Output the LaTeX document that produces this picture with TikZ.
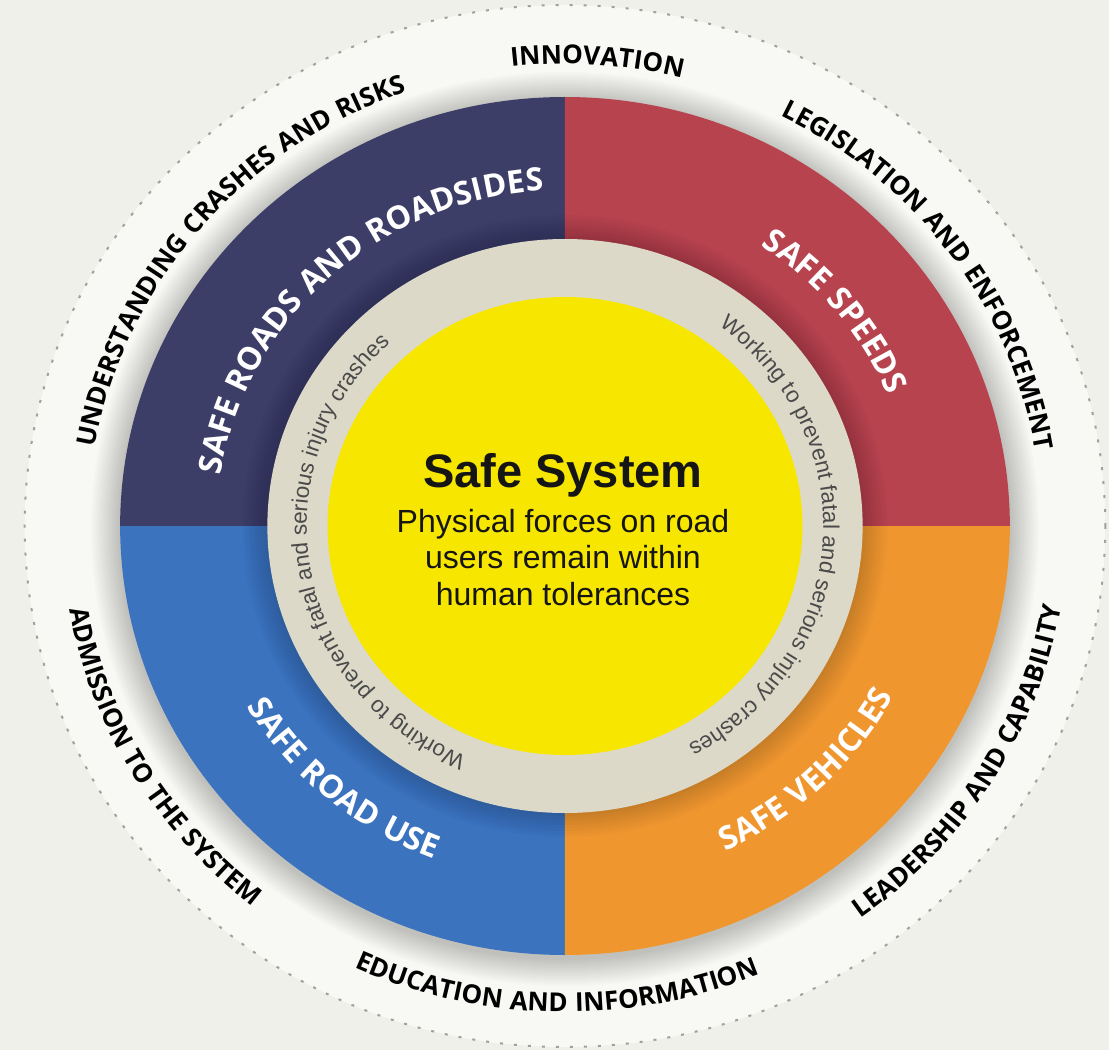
\documentclass[tikz,border=0pt]{standalone}
\usepackage{fontspec}
\setmainfont{Liberation Sans}
\newfontfamily\lblfont[LetterSpace=4]{Open Sans}
\usetikzlibrary{decorations.text}
\definecolor{bgout}{HTML}{F0F0EA}
\definecolor{bgin}{HTML}{F8F8F4}
\definecolor{dotc}{HTML}{A0A0A0}
\definecolor{navyq}{HTML}{3C3E68}
\definecolor{redq}{HTML}{B7434F}
\definecolor{blueq}{HTML}{3B73BF}
\definecolor{orangeq}{HTML}{F0962F}
\definecolor{beigering}{HTML}{DCD9C9}
\definecolor{yellowc}{HTML}{F7E600}
\definecolor{ringtxt}{HTML}{4A4A4A}
\definecolor{maintxt}{HTML}{151515}
\newcommand{\xsc}{1.037}
\newcommand{\outf}{\lblfont\bfseries\fontsize{26}{30}\selectfont}
\newcommand{\quadf}{\lblfont\bfseries\fontsize{32}{36}\selectfont}
\newcommand{\ringf}{\fontsize{22.5}{26}\selectfont}
% text reading clockwise (letters outward)
\newcommand{\toparc}[5]{\path[decorate,decoration={text along path,text align=center,text color=#5,text={|#3|#4}}]
  ({\xsc*(#2)*cos((#1)+80)},{(#2)*sin((#1)+80)}) arc[start angle={(#1)+80},end angle={(#1)-80},x radius={\xsc*(#2)},y radius={#2}];}
% text reading counter-clockwise (letters inward)
\newcommand{\botarc}[5]{\path[decorate,decoration={text along path,text align=center,text color=#5,text={|#3|#4}}]
  ({\xsc*(#2)*cos((#1)-80)},{(#2)*sin((#1)-80)}) arc[start angle={(#1)-80},end angle={(#1)+80},x radius={\xsc*(#2)},y radius={#2}];}
\begin{document}
\begin{tikzpicture}[x=1pt,y=1pt]
\useasboundingbox (-565,-524) rectangle (544,526);
\fill[bgout] (-565,-524) rectangle (544,526);
% light disc and dotted border
\fill[bgin] (0,0) ellipse[x radius={\xsc*521}, y radius=521];
\draw[dotc, line width=2pt, dash pattern=on 3pt off 11pt] (0,0) ellipse[x radius={\xsc*521}, y radius=521];
% soft shadow around the quadrant disc
\foreach \i in {1,...,14} \fill[black, opacity=0.014] (0,-3) ellipse[x radius={\xsc*(429+2*\i)}, y radius={429+2*\i}];
% quadrants
\fill[navyq] (0,0) -- (0,429) arc[start angle=90,end angle=180,x radius={\xsc*429},y radius=429] -- cycle;
\fill[redq] (0,0) -- ({\xsc*429},0) arc[start angle=0,end angle=90,x radius={\xsc*429},y radius=429] -- cycle;
\fill[blueq] (0,0) -- ({-\xsc*429},0) arc[start angle=180,end angle=270,x radius={\xsc*429},y radius=429] -- cycle;
\fill[orangeq] (0,0) -- (0,-429) arc[start angle=270,end angle=360,x radius={\xsc*429},y radius=429] -- cycle;
% shading near the inner ring
\foreach \i in {1,...,8} \fill[black, opacity=0.018] (0,0) ellipse[x radius={\xsc*(287+3*\i)}, y radius={287+3*\i}];
% beige ring and yellow core
\fill[beigering] (0,0) ellipse[x radius={\xsc*287}, y radius=287];
\fill[yellowc] (0,0) ellipse[x radius={\xsc*229}, y radius=229];
% centre text
\node[anchor=base, inner sep=0, text=maintxt, font=\bfseries\fontsize{47}{52}\selectfont] (title) at (-2,39) {Safe System};
\node[anchor=base, inner sep=0, text=maintxt, font=\fontsize{32}{36}\selectfont] (line1) at (-2,-6) {Physical forces on road};
\node[anchor=base, inner sep=0, text=maintxt, font=\fontsize{32}{36}\selectfont] (line2) at (-2,-42) {users remain within};
\node[anchor=base, inner sep=0, text=maintxt, font=\fontsize{32}{36}\selectfont] (line3) at (-2,-79) {human tolerances};
% inner ring texts
\toparc{-4}{249}{\ringf}{Working to prevent fatal and serious injury crashes}{ringtxt}
\toparc{190}{249}{\ringf}{Working to prevent fatal and serious injury crashes}{ringtxt}
% quadrant labels
\toparc{133}{336}{\quadf}{SAFE ROADS AND ROADSIDES}{white}
\toparc{38.5}{338}{\quadf}{SAFE SPEEDS}{white}
\botarc{-131}{356}{\quadf}{SAFE ROAD USE}{white}
\botarc{-45.5}{360}{\quadf}{SAFE VEHICLES}{white}
% outer labels
\toparc{86}{462}{\outf}{INNOVATION}{black}
\toparc{140.5}{460}{\outf}{UNDERSTANDING CRASHES AND RISKS}{black}
\toparc{35.5}{460}{\outf}{LEGISLATION AND ENFORCEMENT}{black}
\botarc{-31}{485}{\outf}{LEADERSHIP AND CAPABILITY}{black}
\botarc{-91}{486}{\outf}{EDUCATION AND INFORMATION}{black}
\botarc{-150}{485}{\outf}{ADMISSION TO THE SYSTEM}{black}
\end{tikzpicture}
\end{document}
